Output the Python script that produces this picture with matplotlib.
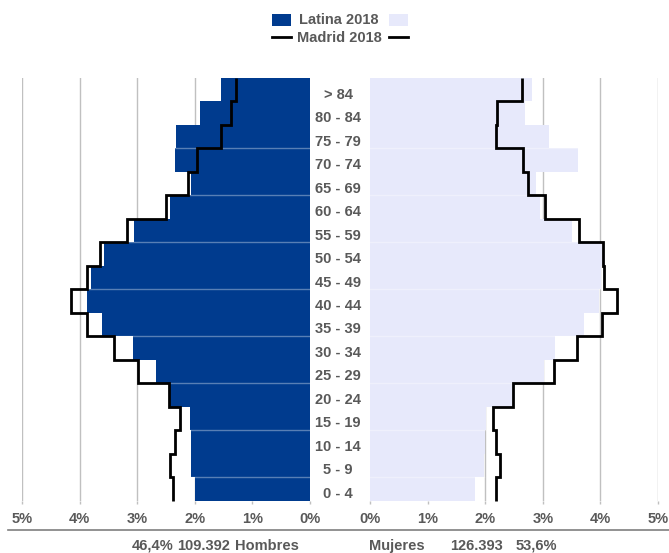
import matplotlib

matplotlib.use("Agg")
import matplotlib.pyplot as plt
import numpy as np
from matplotlib.lines import Line2D
from matplotlib.patches import Rectangle

# age groups, bottom to top
AGE_GROUPS = ["0 - 4", "5 - 9", "10 - 14", "15 - 19", "20 - 24", "25 - 29",
              "30 - 34", "35 - 39", "40 - 44", "45 - 49", "50 - 54", "55 - 59",
              "60 - 64", "65 - 69", "70 - 74", "75 - 79", "80 - 84", "> 84"]
MEN_LATINA = [2.00, 2.07, 2.07, 2.09, 2.43, 2.68, 3.07, 3.61, 3.88, 3.81,
              3.58, 3.05, 2.43, 2.07, 2.34, 2.32, 1.91, 1.54]
MEN_MADRID = [2.38, 2.43, 2.34, 2.26, 2.45, 2.99, 3.41, 3.88, 4.15, 3.87,
              3.64, 3.17, 2.50, 2.12, 1.97, 1.54, 1.37, 1.29]
WOMEN_LATINA = [1.83, 1.98, 1.99, 2.02, 2.46, 3.02, 3.22, 3.72, 3.98, 4.01,
                4.02, 3.51, 2.95, 2.89, 3.61, 3.10, 2.69, 2.81]
WOMEN_MADRID = [2.19, 2.26, 2.18, 2.13, 2.48, 3.19, 3.60, 4.03, 4.29, 4.06,
                4.05, 3.62, 3.04, 2.75, 2.66, 2.19, 2.20, 2.64]
X_TICKS = [0, 1, 2, 3, 4, 5]
X_TICK_LABELS = ["0%", "1%", "2%", "3%", "4%", "5%"]
MEN_TOTAL = ["46,4%", "109.392", "Hombres"]
WOMEN_TOTAL = ["Mujeres", "126.393", "53,6%"]
LEGEND_LABELS = ["Latina 2018", "Madrid 2018"]

W, H = 669, 553
MEN_COLOR = "#003b8e"
WOMEN_COLOR = "#e7e9fb"
GRID_COLOR = "#c0c0c0"
TEXT_COLOR = "#595959"
FONT = ["Liberation Sans", "DejaVu Sans"]
FS = 10.5

plt.rcParams["font.family"] = FONT


def fx(px):
    return px / W


def fy(py):
    return 1 - py / H


def make_axes(fig, left_px, right_px):
    top, bottom = 78, 500.5
    return fig.add_axes([fx(left_px), fy(bottom), (right_px - left_px) / W, (bottom - top) / H])


def style_axes(ax):
    for spine in ax.spines.values():
        spine.set_visible(False)
    ax.set_ylim(0, len(AGE_GROUPS))
    ax.set_yticks([])
    ax.set_xlim(0, 5)
    ax.set_xticks(X_TICKS)
    ax.set_xticklabels(X_TICK_LABELS, fontsize=FS, fontweight="bold", color=TEXT_COLOR)
    ax.tick_params(axis="x", length=2.5, width=1, color=GRID_COLOR, pad=6)
    ax.grid(axis="x", color=GRID_COLOR, linewidth=1)
    ax.set_axisbelow(True)


def draw_side(ax, latina, madrid, color):
    y = np.arange(len(AGE_GROUPS))
    ax.barh(y, latina, height=1.0, align="edge", color=color, zorder=2)
    # faint separators every two groups
    for yy in range(1, len(AGE_GROUPS) - 2, 2):
        ax.plot([0, max(latina[yy - 1], latina[yy])], [yy, yy],
                color="white", alpha=0.35, linewidth=1, zorder=3)
    ax.stairs(madrid, np.arange(len(AGE_GROUPS) + 1), orientation="horizontal",
              baseline=None, color="black", linewidth=2, zorder=4, clip_on=False)


fig = plt.figure(figsize=(W / 100, H / 100), dpi=100)

ax_m = make_axes(fig, 22, 310)
style_axes(ax_m)
ax_m.invert_xaxis()
draw_side(ax_m, MEN_LATINA, MEN_MADRID, MEN_COLOR)

ax_w = make_axes(fig, 370, 658)
style_axes(ax_w)
draw_side(ax_w, WOMEN_LATINA, WOMEN_MADRID, WOMEN_COLOR)

# age labels between the two halves
row_h = (500.5 - 78) / len(AGE_GROUPS)
for i, label in enumerate(AGE_GROUPS):
    py = 500.5 - (i + 0.5) * row_h + 5
    fig.text(fx(338), fy(py), label, ha="center", va="center",
             fontsize=FS, fontweight="bold", color=TEXT_COLOR)

# rule under the tick labels
fig.add_artist(Line2D([fx(8), 1], [fy(529.5), fy(529.5)], color="#7f7f7f", linewidth=1.2))

# totals
text_kw = dict(fontsize=FS, fontweight="bold", color=TEXT_COLOR, va="center")
fig.text(fx(173), fy(546), MEN_TOTAL[0], ha="right", **text_kw)
fig.text(fx(204), fy(546), MEN_TOTAL[1], ha="center", **text_kw)
fig.text(fx(267), fy(546), MEN_TOTAL[2], ha="center", **text_kw)
fig.text(fx(397), fy(546), WOMEN_TOTAL[0], ha="center", **text_kw)
fig.text(fx(477), fy(546), WOMEN_TOTAL[1], ha="center", **text_kw)
fig.text(fx(536), fy(546), WOMEN_TOTAL[2], ha="center", **text_kw)

# legend
for x0, c in [(272, MEN_COLOR), (389, WOMEN_COLOR)]:
    fig.add_artist(Rectangle((fx(x0), fy(26)), 19 / W, 12 / H, facecolor=c,
                             edgecolor="none", transform=fig.transFigure))
    fig.add_artist(Line2D([fx(x0), fx(x0 + 19)], [fy(37), fy(37)], color="black", linewidth=2))
fig.text(fx(299), fy(19.5), LEGEND_LABELS[0], ha="left", **text_kw)
fig.text(fx(297), fy(37.5), LEGEND_LABELS[1], ha="left", **text_kw)

fig.savefig("out.png", dpi=100)
